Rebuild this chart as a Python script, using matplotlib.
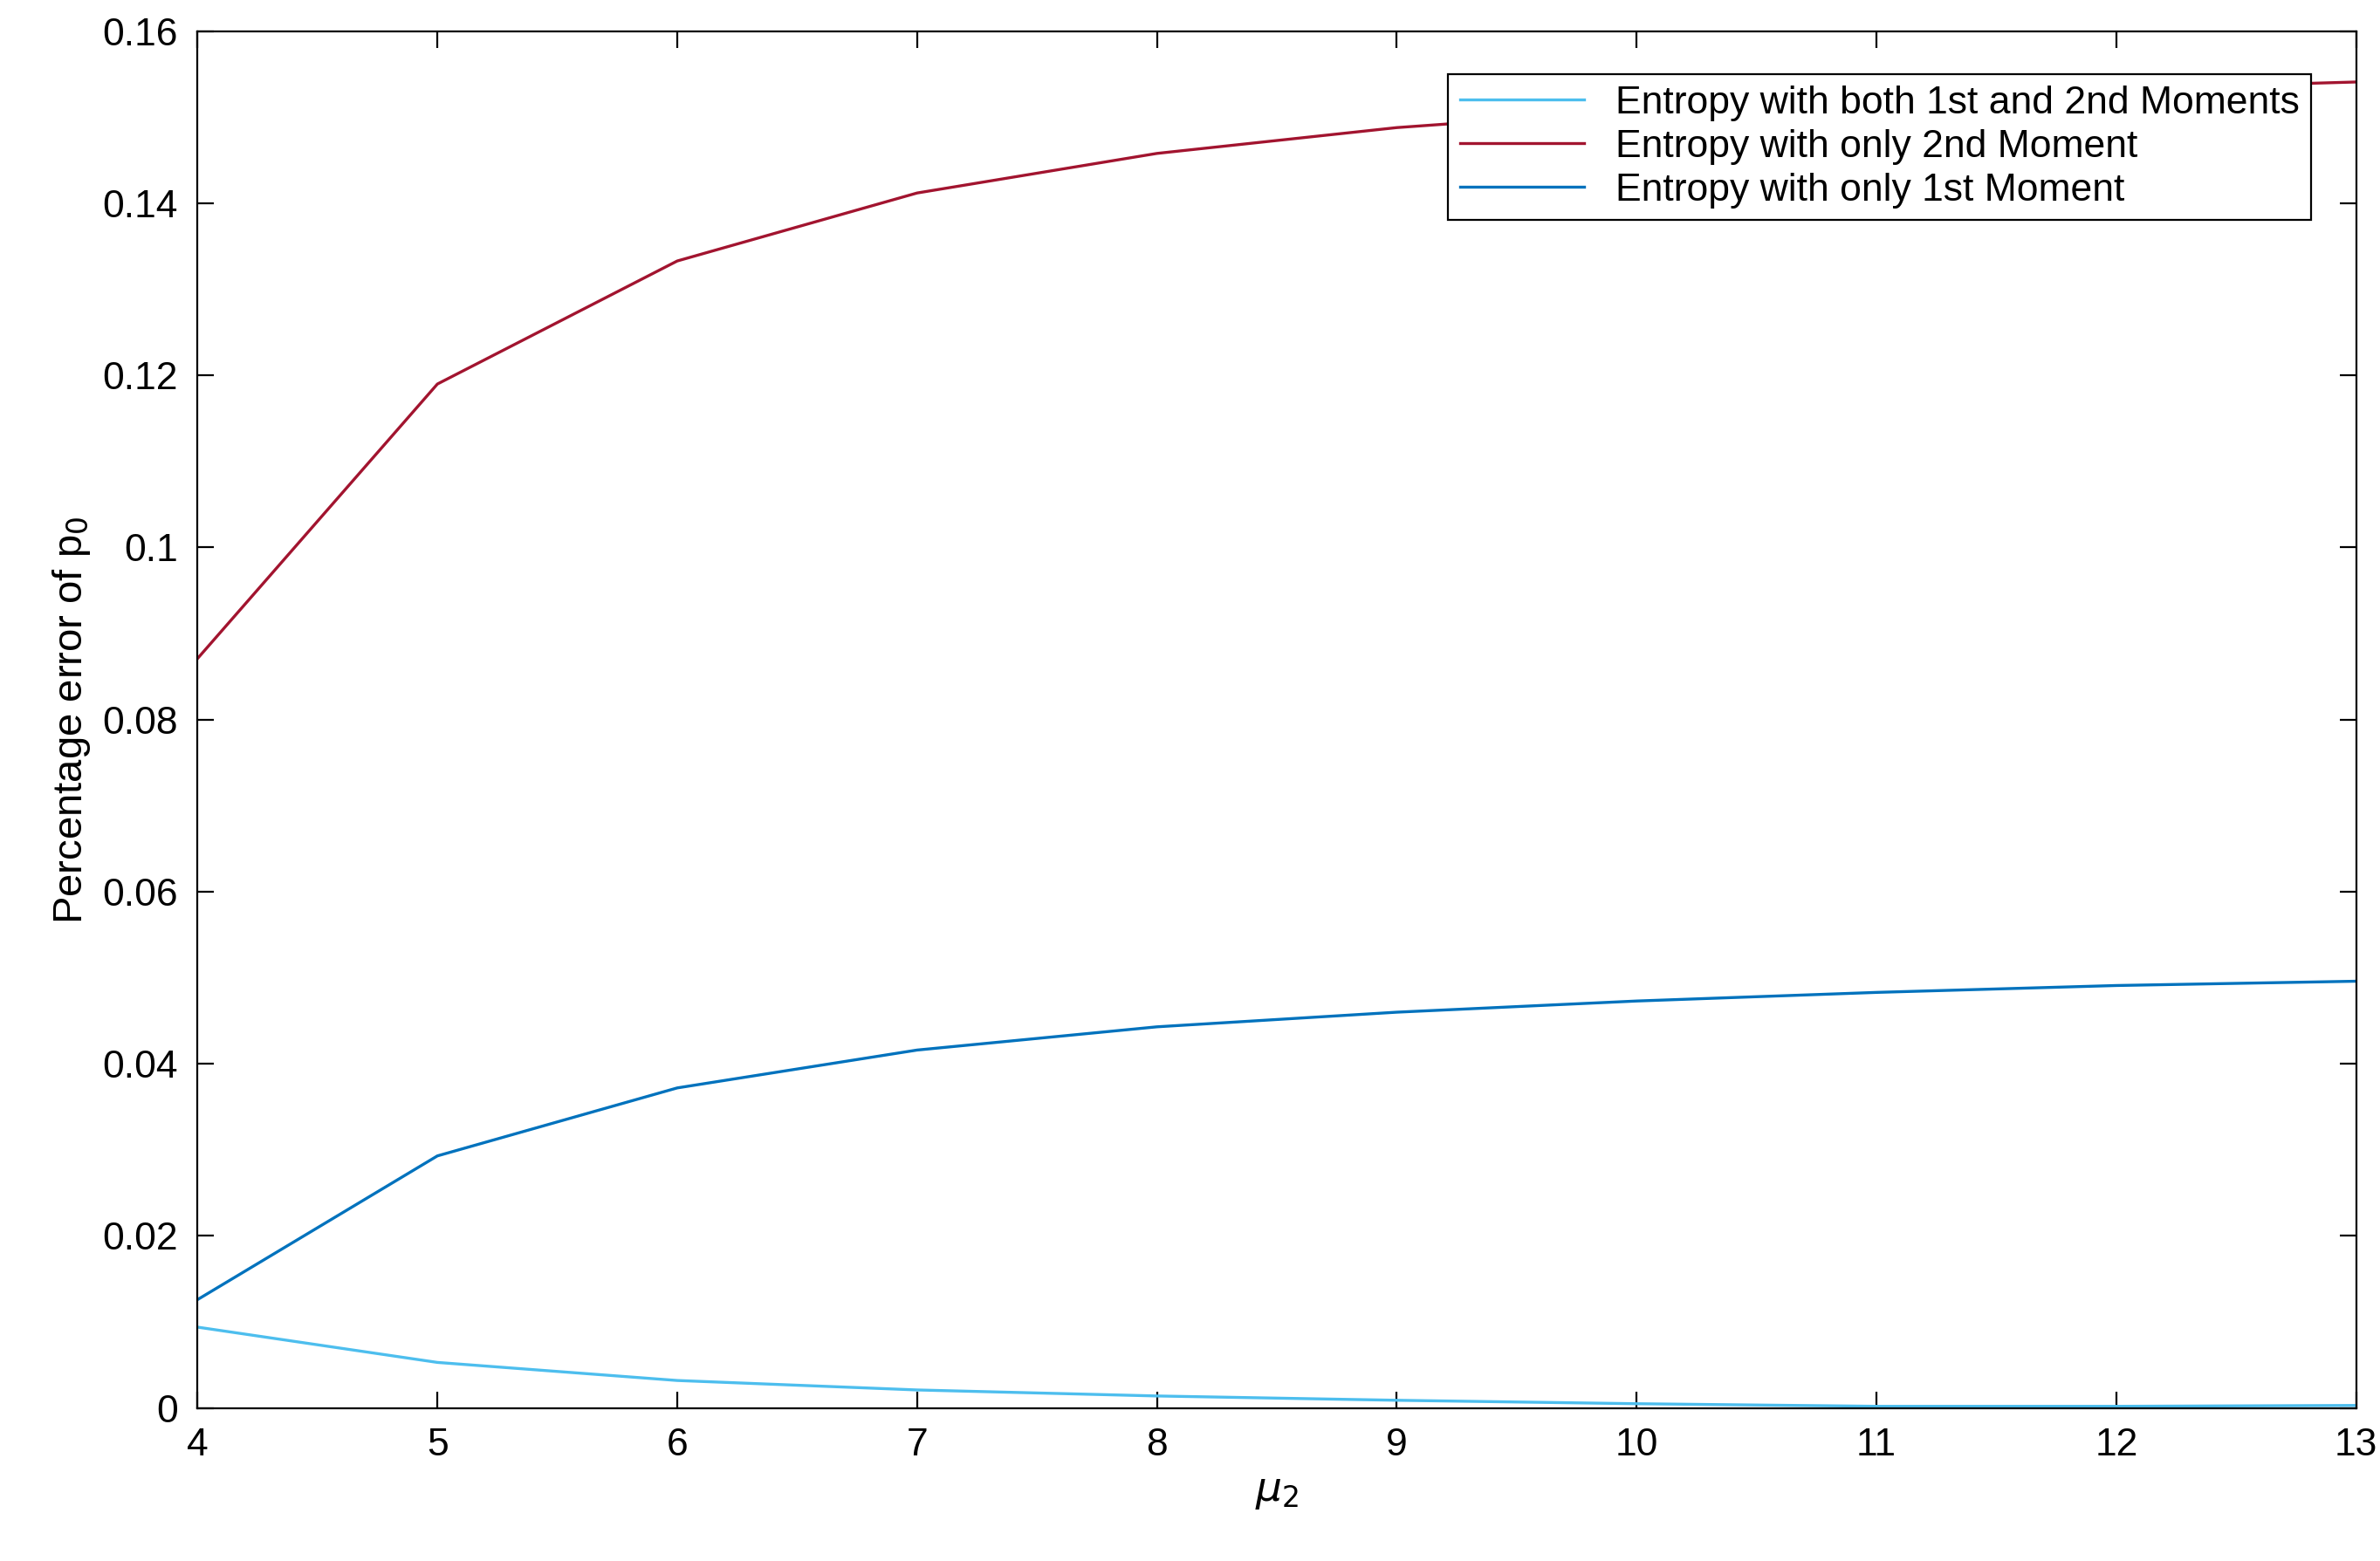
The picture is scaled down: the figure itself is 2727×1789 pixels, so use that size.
import numpy as np
import matplotlib.pyplot as plt

mu2 = [4, 5, 6, 7, 8, 9, 10, 11, 12, 13]
both_moments = [0.0094, 0.0053, 0.0032, 0.0021, 0.0014, 0.0009, 0.0005, 0.0002, 0.0002, 0.0003]
only_2nd = [0.0871, 0.1190, 0.1333, 0.1412, 0.1458, 0.1488, 0.1508, 0.1522, 0.1533, 0.1541]
only_1st = [0.0126, 0.0293, 0.0372, 0.0416, 0.0443, 0.0460, 0.0473, 0.0483, 0.0491, 0.0496]

plt.rcParams['font.family'] = ['Liberation Sans', 'DejaVu Sans']
plt.rcParams['mathtext.fontset'] = 'dejavusans'

fig = plt.figure(figsize=(13.635, 8.945), dpi=200)
ax = fig.add_axes([0.083, 0.098, 0.907, 0.882])

ax.plot(mu2, both_moments, color='#4DBEEE', lw=1.2, label='Entropy with both 1st and 2nd Moments')
ax.plot(mu2, only_2nd, color='#A2142F', lw=1.2, label='Entropy with only 2nd Moment')
ax.plot(mu2, only_1st, color='#0072BD', lw=1.2, label='Entropy with only 1st Moment')

ax.set_xlim(4, 13)
ax.set_ylim(0, 0.16)
ax.set_xticks(range(4, 14))
ax.set_yticks([0, 0.02, 0.04, 0.06, 0.08, 0.1, 0.12, 0.14, 0.16])
ax.set_yticklabels(['0', '0.02', '0.04', '0.06', '0.08', '0.1', '0.12', '0.14', '0.16'])
ax.tick_params(direction='in', top=True, right=True, labelsize=16, length=7, width=0.8, pad=8)
for s in ax.spines.values():
    s.set_linewidth(0.8)

ax.set_xlabel(r'$\mu_2$', fontsize=17)
ax.set_ylabel(r'Percentage error of p$_0$', fontsize=17)

leg = ax.legend(loc='upper right', bbox_to_anchor=(0.979, 0.969), fontsize=16,
                fancybox=False, edgecolor='black', framealpha=1,
                borderaxespad=0, handlelength=3.2, borderpad=0.3, labelspacing=0.2)
leg.get_frame().set_linewidth(0.8)

fig.savefig('out.png', dpi=200)
